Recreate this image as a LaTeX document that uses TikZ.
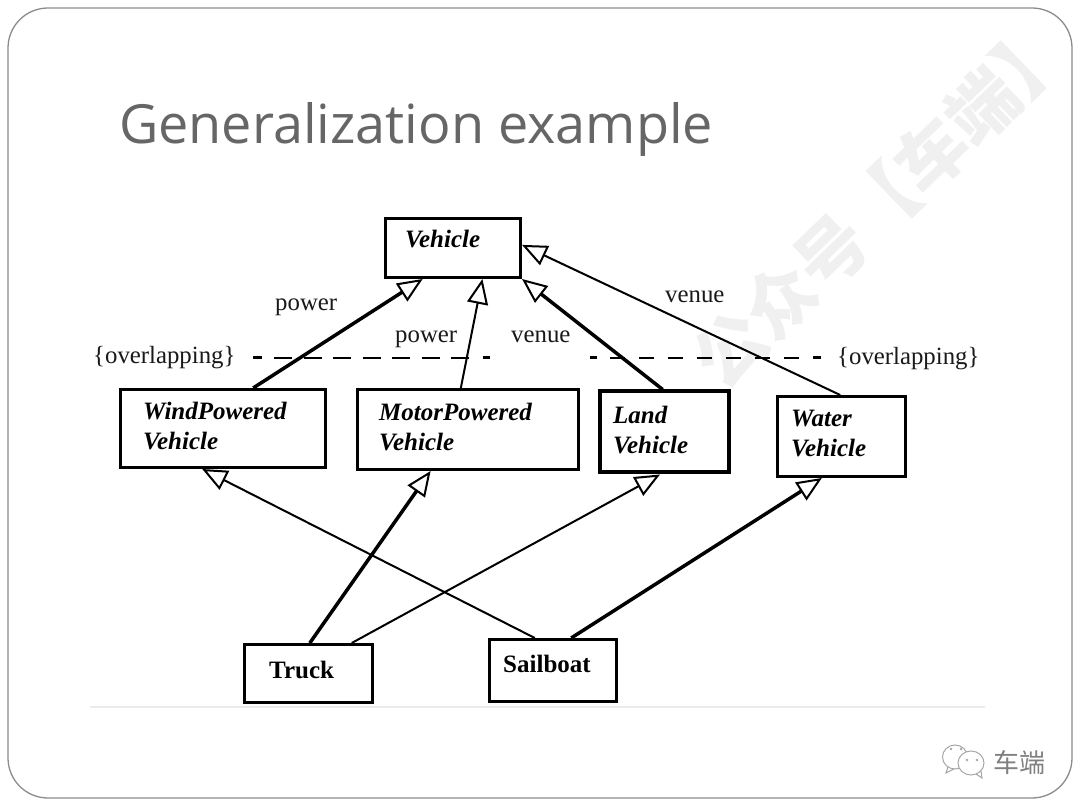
\documentclass[tikz,border=0pt]{standalone}
\usepackage{fontspec}
\setmainfont{Liberation Serif}
\newfontfamily\titlefont{Open Sans}
\newfontfamily\cjkfont{Noto Sans CJK SC}
\usetikzlibrary{arrows.meta,calc}
\tikzset{
	classbox/.style={draw,line width=3pt,rectangle,inner sep=0pt},
	classname/.style={anchor=west,inner sep=0pt,align=left,font=\fontsize{25}{30}\selectfont\bfseries\itshape},
	objname/.style={anchor=west,inner sep=0pt,font=\fontsize{25}{30}\selectfont\bfseries},
	tagtext/.style={anchor=west,inner sep=0pt,font=\fontsize{24.8}{30}\selectfont,text=black!90},
	genthin/.style={line width=2pt,-{Triangle[length=25pt,width=21pt,line width=2pt,fill=white]}},
	genthick/.style={line width=3.5pt,-{Triangle[length=25pt,width=21pt,line width=2pt,fill=white]}},
	setline/.style={line width=1.3pt,dash pattern=on 18pt off 11.5pt},
	setlinewide/.style={line width=1.3pt,dash pattern=on 15pt off 14pt},
	setend/.style={line width=3pt},
	stamp/.style={inner sep=0pt,text=black!6,font=\fontsize{70}{75}\selectfont\cjkfont\bfseries}
}
\begin{document}
\begin{tikzpicture}[x=1pt,y=-1pt]
	\useasboundingbox (0,0) rectangle (1080,810);
	\fill [white] (0,0) rectangle (1080,810);
	\draw [black!45,line width=1.3pt,rounded corners=40pt] (8,8) rectangle (1072,798);
	\draw [black!8,line width=1.5pt] (90,707) -- (985,707);
	\node (stampmark) [stamp,rotate=44] at (881,203) {公众号【车端】};
	\node (title) [anchor=west,inner sep=0pt,text=black!60,font=\fontsize{54}{60}\selectfont\titlefont] at (119,129) {Generalization example};
	% class boxes
	\node (vehicle) [classbox,minimum width=135pt,minimum height=59pt] at (453,248) {};
	\node (wind) [classbox,minimum width=205pt,minimum height=78pt] at (223,428.5) {};
	\node (motor) [classbox,minimum width=221pt,minimum height=80pt] at (468,429.5) {};
	\node (land) [classbox,line width=4pt,minimum width=129pt,minimum height=81pt] at (664,432) {};
	\node (water) [classbox,minimum width=128pt,minimum height=80pt] at (841.5,436.5) {};
	\node (truck) [classbox,minimum width=128pt,minimum height=58pt] at (308.5,673.5) {};
	\node (sailboat) [classbox,minimum width=127pt,minimum height=62pt] at (553,670.5) {};
	\node (vehiclename) [classname] at (405,239) {Vehicle};
	\node (windname) [classname] at (143,426) {WindPowered\\Vehicle};
	\node (motorname) [classname] at (379,427) {MotorPowered\\Vehicle};
	\node (landname) [classname] at (613,430) {Land\\Vehicle};
	\node (watername) [classname] at (791,434) {Water\\Vehicle};
	\node (truckname) [objname] at (269,670) {Truck};
	\node (sailboatname) [objname] at (503,664) {Sailboat};
	% generalization arrows
	\draw [genthick] ($(wind.north west)!0.645!(wind.north east)$) -- ($(vehicle.south west)!0.28!(vehicle.south east)$);
	\draw [genthin] ($(motor.north west)!0.468!(motor.north east)$) -- ($(vehicle.south west)!0.713!(vehicle.south east)$);
	\draw [genthick] ($(land.north west)!0.49!(land.north east)$) -- (vehicle.south east);
	\draw [genthin] ($(water.north west)!0.49!(water.north east)$) -- ($(vehicle.north east)!0.45!(vehicle.south east)$);
	\draw [genthin] ($(sailboat.north west)!0.36!(sailboat.north east)$) -- ($(wind.south west)!0.40!(wind.south east)$);
	\draw [genthick] ($(truck.north west)!0.51!(truck.north east)$) -- ($(motor.south west)!0.333!(motor.south east)$);
	\draw [genthin] ($(truck.north west)!0.83!(truck.north east)$) -- ($(land.south west)!0.47!(land.south east)$);
	\draw [genthick] ($(sailboat.north west)!0.64!(sailboat.north east)$) -- ($(water.south west)!0.35!(water.south east)$);
	% dashed set lines
	\draw [setline] (274,358) -- (470,358);
	\draw [setend] (253,358) -- (262,358);
	\draw [setend] (483,358) -- (490,358);
	\draw [setlinewide] (610,358) -- (800,358);
	\draw [setend] (590,358) -- (597,358);
	\draw [setend] (813,358) -- (821,358);
	\node (powerleft) [tagtext] at (275,307) {power};
	\node (powerright) [tagtext] at (395,339) {power};
	\node (venueleft) [tagtext] at (511,337) {venue};
	\node (venueright) [tagtext] at (665,297) {venue};
	\node (overlapleft) [tagtext] at (93,358) {\{overlapping\}};
	\node (overlapright) [tagtext] at (837,359) {\{overlapping\}};
	% chat badge
	\draw [black!35,line width=1pt,fill=white] (955,757) ellipse (12.5pt and 12pt);
	\draw [black!35,line width=1pt] (948,767) -- (946,773) -- (954,769);
	\draw [black!35,line width=1pt,fill=white] (971,763) ellipse (13pt and 12pt);
	\draw [black!35,line width=1pt] (976,774) -- (982,778) -- (981,771);
	\foreach \dotx/\doty in {951/749,961/749,967/760,977/760}
		\fill [black!35] (\dotx,\doty) circle (1.3pt);
	\node (badgetext) [anchor=west,inner sep=0pt,text=black!50,font=\fontsize{26}{28}\selectfont\cjkfont] at (993,763) {车端};
\end{tikzpicture}
\end{document}
